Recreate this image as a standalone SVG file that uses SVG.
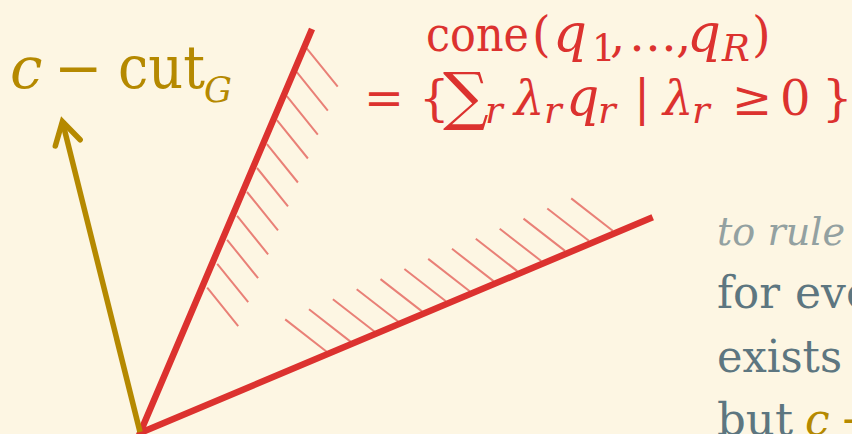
<svg xmlns="http://www.w3.org/2000/svg" width="852" height="434" viewBox="0 0 852 434">
<style>
.ray{stroke:#dc322f;stroke-width:6.5;stroke-linecap:butt;fill:none}
.hatch{stroke:#dc322f;stroke-opacity:0.6;stroke-width:2;fill:none}
.gold{fill:#b58900}
.red{fill:#dc322f}
.serif{font-family:"DejaVu Serif","Liberation Serif",serif}
.it{font-style:italic}
.body{fill:#5d7680;font-size:44px}
.note{fill:#93a1a1;font-size:39px;font-style:italic}
</style>
<defs>
<marker id="chev" markerUnits="userSpaceOnUse" markerWidth="40" markerHeight="40" viewBox="-30 -20 40 40" refX="0" refY="0" orient="auto" overflow="visible">
<path d="M -22 -12.8 L 0 0 L -22 12.8" fill="none" stroke="#b58900" stroke-width="5.5" stroke-linecap="round" stroke-linejoin="miter"/>
</marker>
</defs>
<rect width="852" height="434" fill="#fdf6e3"/>
<g id="cone">
<path class="hatch" d="M306.7 48.3L337.7 86.7M296.8 72.2L327.8 110.6M286.8 96.2L317.8 134.6M276.9 120.1L307.9 158.5M266.9 144.1L297.9 182.5M257 168L288 206.4M247 192L278 230.4M237.1 215.9L268.1 254.3M227.1 239.8L258.1 278.2M217.2 263.8L248.2 302.2M207.2 287.7L238.2 326.1"/>
<path class="hatch" d="M285.2 319.4L326.7 351.7M309 309.3L350.5 341.6M332.9 299.2L374.4 331.5M356.7 289.2L398.2 321.5M380.5 279.1L422 311.4M404.4 269L445.9 301.3M428.2 258.9L469.7 291.2M452 248.8L493.5 281.1M475.8 238.8L517.3 271.1M499.7 228.7L541.2 261M523.5 218.6L565 250.9M547.3 208.5L588.8 240.8M571.2 198.4L612.7 230.7"/>
<path class="ray" d="M312 29L140 433L652.7 217.3"/>
</g>
<g id="connectors">
<path d="M140 432L62.4 121.5" fill="none" stroke="#b58900" stroke-width="5.5" marker-end="url(#chev)"/>
</g>
<g id="label-cut" class="serif gold">
<text x="10" y="88" font-size="58" class="it">c</text>
<text x="54" y="88" font-size="58">−</text>
<text x="118" y="88" font-size="60" textLength="87" lengthAdjust="spacingAndGlyphs">cut</text>
<text x="204" y="102" font-size="35" class="it">G</text>
</g>
<g id="label-cone" class="serif red">
<text y="51" font-size="48"><tspan x="426" textLength="103" lengthAdjust="spacingAndGlyphs">cone</tspan><tspan x="532">(</tspan><tspan x="553" class="it" font-size="53">q</tspan><tspan x="610">,</tspan><tspan x="629">…</tspan><tspan x="676">,</tspan><tspan x="687" class="it" font-size="53">q</tspan><tspan x="752">)</tspan></text>
<text y="61" font-size="37"><tspan x="592">1</tspan><tspan x="722" class="it">R</tspan></text>
<text y="115" font-size="48"><tspan x="364" textLength="40" lengthAdjust="spacingAndGlyphs">=</tspan><tspan x="419">{</tspan><tspan x="443" font-size="64" dy="3">∑</tspan><tspan x="514" class="it" dy="-3">λ</tspan><tspan x="566" class="it" font-size="52">q</tspan><tspan x="634">|</tspan><tspan x="663" class="it">λ</tspan><tspan x="732">≥</tspan><tspan x="780">0</tspan><tspan x="822">}</tspan></text>
<text y="123" font-size="37" class="it"><tspan x="485">r</tspan><tspan x="544">r</tspan><tspan x="598">r</tspan><tspan x="692">r</tspan></text>
</g>
<g id="side-text" class="serif">
<text x="717" y="245" class="note" textLength="128" lengthAdjust="spacingAndGlyphs">to rule</text>
<text y="308" class="body"><tspan x="717" textLength="63" lengthAdjust="spacingAndGlyphs">for</tspan><tspan x="795">eve</tspan></text>
<text x="717" y="372" class="body" textLength="125" lengthAdjust="spacingAndGlyphs">exists</text>
<text y="435" class="body"><tspan x="717" textLength="76" lengthAdjust="spacingAndGlyphs">but</tspan><tspan x="805" class="it" fill="#b58900">c</tspan><tspan x="840" fill="#b58900">−</tspan></text>
</g>
</svg>
